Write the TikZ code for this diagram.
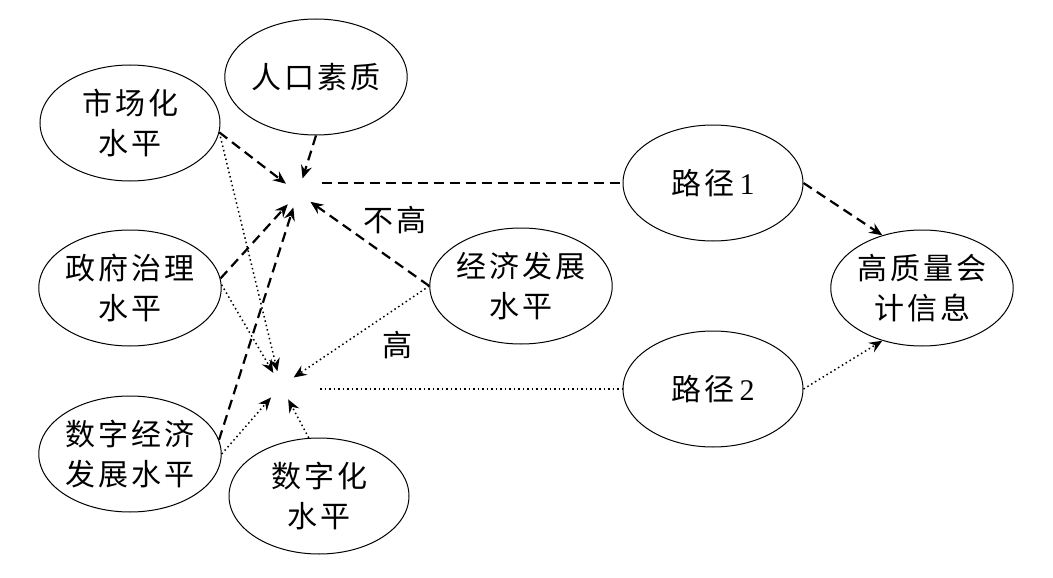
\documentclass[tikz,border=0pt]{standalone}
\usepackage{fontspec}
\setmainfont{Liberation Serif}
\newfontfamily\cjk[LetterSpace=10]{Noto Sans CJK SC}
\usetikzlibrary{arrows.meta, shapes.geometric}
\tikzset{
  var/.style = {ellipse, draw=black, line width=1pt, inner sep=0pt,
    minimum width=180pt, minimum height=116pt, align=center,
    font=\cjk\fontsize{30}{40}\selectfont},
  lbl/.style = {inner sep=0pt, font=\cjk\fontsize{30}{40}\selectfont},
  hub/.style = {circle, inner sep=0pt, minimum size=30pt},
  pathone/.style = {->, line width=2.2pt, dash pattern=on 10pt off 6pt},
  pathtwo/.style = {->, line width=1.5pt, dash pattern=on 1.5pt off 3pt}
}

\begin{document}
\begin{tikzpicture}[x=1pt, y=-1pt, >={Stealth[length=13pt,width=11pt,inset=4.5pt]}]
\useasboundingbox (0,0) rectangle (1053,578);
% factors
\node [var] (mkt) at (130,123) {市场化\\水平};
\node [var] (pop) at (316,77) {人口素质};
\node [var] (gov) at (130,288) {政府治理\\水平};
\node [var] (dig) at (130,454) {数字经济\\发展水平};
\node [var] (dgt) at (319,496) {数字化\\水平};
\node [var] (eco) at (521,286) {经济发展\\水平};
% paths and outcome
\node [var] (p1) at (713,183) {路径\,\rmfamily 1};
\node [var] (p2) at (713,389) {路径\,\rmfamily 2};
\node [var] (hq) at (922,288) {高质量会\\计信息};
% meeting points
\node [hub] (up) at (298,193) {};
\node [hub] (low) at (281,386) {};
\node [lbl] (nothigh) at (395,220) {不高};
\node [lbl] (high) at (397,345) {高};

% path 1
\draw [pathone] (mkt.-6) -- (up);
\draw [pathone] (pop.south) -- (up);
\draw [pathone] (gov.6) -- (up);
\draw [pathone] (dig.9) -- (up);
\draw [pathone] (eco.west) -- (up);
\draw [pathone, -, shorten <=9pt] (up.east |- p1.west) -- (p1.west);
\draw [pathone] (p1.east) -- (hq.127);

% path 2
\draw [pathtwo] (mkt.-6) -- (low);
\draw [pathtwo] (gov.2) -- (low);
\draw [pathtwo] (dig.east) -- (low);
\draw [pathtwo] (dgt.100) -- (low);
\draw [pathtwo] (eco.west) -- (low);
\draw [pathtwo, -, shorten <=24pt] (low.east |- p2.west) -- (p2.west);
\draw [pathtwo] (p2.east) -- (hq.233);
\end{tikzpicture}
\end{document}
